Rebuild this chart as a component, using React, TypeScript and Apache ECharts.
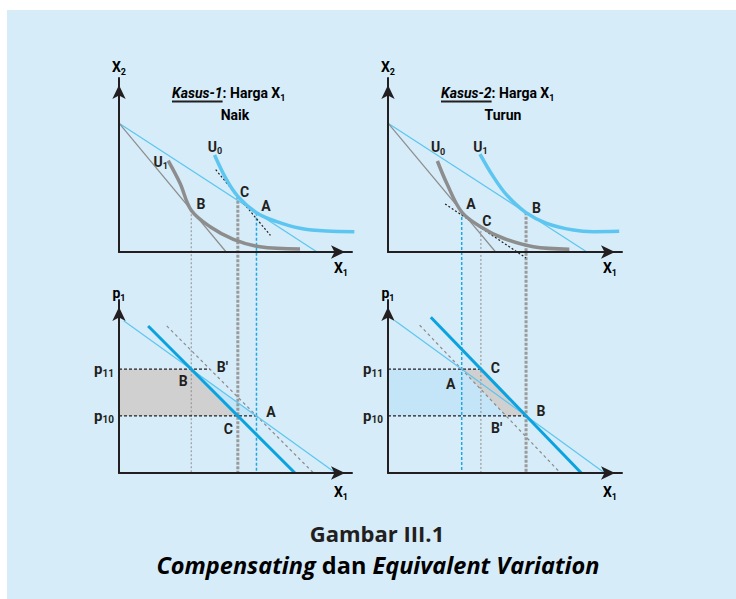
import React, { useEffect, useRef } from 'react';
import * as echarts from 'echarts';

// ---------------- DATA (each panel's axes run 0..100) ----------------
// Kasus-1 (harga X1 naik) — upper panel: X1 / X2
const k1BudgetInitial = [[0, 74], [85, 0]];
const k1BudgetNew = [[0, 74], [46, 0]];
const k1CurveU0 = [[41, 55.7], [46.2, 41.4], [51, 32], [59, 22.6], [67.7, 17.4], [77.7, 13.6], [89, 12], [101, 11.7]];
const k1CurveU1 = [[21.1, 52.5], [26.2, 39.5], [31, 24], [39.1, 14.5], [49.1, 7.3], [60.5, 3.0], [77.7, 1.7]];
const k1Tangent = [[41.5, 47.3], [65, 9.5]];
// vertical drop lines: [x, top y in upper panel]  (B, C, A)
const k1DropB = [31, 24];
const k1DropC = [51, 32];
const k1DropA = [59, 22.6];
const k1UpperLabels = [
  ['U', '0', 41.2, 60.5], ['U', '1', 17.9, 51.9], ['C', '', 53.9, 34.7], ['B', '', 35.2, 27.4], ['A', '', 63.1, 26.3],
];
// Kasus-1 — lower panel: X1 / p1
const k1DemandThin = [[2, 88], [93, 0]];
const k1DemandThick = [[12.5, 85], [75.5, 0]];
const k1DemandDotted = [[20.5, 85], [83.5, 0]];
const k1AreaGray = [[0, 60], [31, 60], [51, 33], [0, 33]];
const k1AreaBlue = [[31, 60], [59, 33], [51, 33]];
const k1P11Line = [[0, 60], [39, 60]];
const k1P10Line = [[0, 33], [59, 33]];
const k1LowerLabels = [['B′', '', 44.4, 61.4], ['B', '', 27.6, 53.4], ['A', '', 65.2, 35.4], ['C', '', 46.9, 25.3]];

// Kasus-2 (harga X1 turun) — upper panel
const k2BudgetInitial = [[0, 74], [46, 0]];
const k2BudgetNew = [[0, 74], [85, 0]];
const k2CurveU0 = [[21.1, 52.3], [25.1, 39.5], [31.5, 23], [39.7, 14.4], [49.3, 7.9], [62.1, 3.0], [77.5, 1.6]];
const k2CurveU1 = [[39.3, 56.3], [45, 43.3], [50.7, 32.8], [58.8, 22.8], [67.8, 16.5], [79.2, 12.6], [87.8, 11.7], [98.8, 11.9]];
const k2Tangent = [[24.4, 27.6], [59, -3.4]];
const k2DropA = [31.5, 23];
const k2DropC = [39.7, 14.4];
const k2DropB = [59, 22.8];
const k2UpperLabels = [
  ['U', '0', 21.4, 60.2], ['U', '1', 39.5, 60.5], ['A', '', 35.5, 27.6], ['C', '', 42.2, 17.6], ['B', '', 63.5, 25.1],
];
// Kasus-2 — lower panel
const k2DemandThin = [[3, 88], [92.6, 0]];
const k2DemandThick = [[18.3, 90], [82.6, 0]];
const k2DemandDotted = [[13.5, 85.5], [73.7, 0]];
const k2AreaBlue = [[0, 60], [31.5, 60], [50.5, 33], [0, 33]];
const k2AreaGray = [[31.5, 60], [39.7, 60], [59, 33], [50.5, 33]];
const k2P11Line = [[0, 60], [39.7, 60]];
const k2P10Line = [[0, 33], [59, 33]];
const k2LowerLabels = [['C', '', 45.9, 60.9], ['A', '', 26.8, 51.3], ['B', '', 65.4, 35.8], ['B′', '', 46.4, 26.0]];

// price tick labels on the p1 axes
const priceTicks = [33, 60];
const priceTickSubs = ['10', '11'];

// ---------------- LAYOUT / STYLE ----------------
const GRIDS = [
  { left: 119, top: 78, width: 233, height: 174 },  // 0 upper-left
  { left: 119, top: 300, width: 233, height: 173 }, // 1 lower-left
  { left: 388, top: 78, width: 234, height: 174 },  // 2 upper-right
  { left: 388, top: 300, width: 234, height: 173 }, // 3 lower-right
];
const INK = '#231f20';
const GRAY = '#8d8d8d';
const LIGHT_BLUE = '#5cc6f0';
const BLUE = '#0aa2df';
const PANEL = '#d6ecf9';
const FILL_GRAY = '#d0d0d0';
const FILL_BLUE = '#c3e5f7';
const FONT = 'Roboto, "Noto Sans", sans-serif';
const CAP_FONT = '"Open Sans", "Noto Sans", sans-serif';

const rich = {
  m: { fontFamily: FONT, fontSize: 14, fontWeight: 'bold', color: INK, lineHeight: 18 },
  s: { fontFamily: FONT, fontSize: 9, fontWeight: 'bold', color: INK, lineHeight: 10, verticalAlign: 'bottom' },
  k: { fontFamily: FONT, fontSize: 14, fontWeight: 'bold', fontStyle: 'italic', color: INK, lineHeight: 18 },
  p: { fontFamily: FONT, fontSize: 15, fontWeight: 'bold', color: INK, lineHeight: 18 },
  q: { fontFamily: FONT, fontSize: 10, fontWeight: 'bold', color: INK, lineHeight: 10, verticalAlign: 'bottom' },
};

function textWidth(text: string, font: string) {
  const c = document.createElement('canvas').getContext('2d')!;
  c.font = font;
  return c.measureText(text).width;
}

function line(data: number[][], gi: number, style: any, z = 3, clip = true) {
  return {
    type: 'line', xAxisIndex: gi, yAxisIndex: gi, data, symbol: 'none', silent: true, z, clip,
    lineStyle: style, animation: false,
  };
}

function poly(points: number[][], gi: number, fill: string) {
  return {
    type: 'custom', xAxisIndex: gi, yAxisIndex: gi, silent: true, z: 1, data: points,
    renderItem: (params: any, api: any) => {
      if (params.dataIndex !== 0) return null;
      return {
        type: 'polygon',
        shape: { points: points.map((p) => api.coord(p)) },
        style: { fill },
      };
    },
  };
}

function labels(items: any[], gi: number) {
  return {
    type: 'scatter', xAxisIndex: gi, yAxisIndex: gi, silent: true, z: 8, clip: false,
    symbolSize: 1, itemStyle: { color: 'rgba(0,0,0,0)', opacity: 1 },
    label: {
      show: true, position: 'inside', color: INK, fontWeight: 'bold', fontSize: 14, fontFamily: FONT,
      textBorderWidth: 0, opacity: 1, rich,
    },
    data: items.map(([t, s, x, y]) => ({
      value: [x, y],
      label: { formatter: s ? `{m|${t}}{s|${s}}` : `{m|${t}}` },
    })),
  };
}

function dropLine(top: number[], style: any) {
  // from the point in the upper panel down to the lower panel's X1 axis
  const up = GRIDS[0];
  const low = GRIDS[1];
  const bottom = -((low.top + low.height) - (up.top + up.height)) / up.height * 100;
  return { data: [[top[0], top[1]], [top[0], bottom]], style };
}

const thinGrayDash = { color: GRAY, width: 1, type: [2, 2] };
const thickGrayDot = { color: '#9a9a9a', width: 3, type: [3, 1.5] };
const blueDot = { color: '#1fa8e0', width: 1.5, type: [3, 2] };
const blackDash = { color: INK, width: 1.2, type: [3, 2] };
const blackDot = { color: INK, width: 1.2, type: [2, 2] };
const grayDot = { color: '#8a8a8a', width: 1.2, type: [3, 3] };
const thinBlue = { color: LIGHT_BLUE, width: 1.2 };
const thinGray = { color: GRAY, width: 1.2 };
const thickBlue = { color: BLUE, width: 3 };
const curveBlue = { color: LIGHT_BLUE, width: 3.5 };
const curveGray = { color: GRAY, width: 3.5 };

function axis(gi: number, isY: boolean) {
  const lowerY = isY && (gi === 1 || gi === 3);
  return {
    type: 'value', gridIndex: gi, min: 0, max: 100, z: 6,
    axisLine: {
      show: true, onZero: false, symbol: ['none', 'arrow'], symbolSize: [10, 14], symbolOffset: [0, -7],
      lineStyle: { color: INK, width: 2 },
    },
    axisTick: { show: false },
    splitLine: { show: false },
    axisLabel: lowerY
      ? {
          show: true, customValues: priceTicks, margin: 5, rich, color: INK, fontWeight: 'bold', fontFamily: FONT,
          formatter: (v: number) => `{p|p}{q|${priceTickSubs[priceTicks.indexOf(v)]}}`,
        }
      : { show: false },
  };
}

function axisName(sym: string, sub: string, x: number, y: number) {
  return {
    type: 'text', z: 10,
    style: {
      text: `{m|${sym}}{s|${sub}}`, rich, x, y,
      textAlign: 'center', textVerticalAlign: 'middle', align: 'center', verticalAlign: 'middle',
    },
  };
}

export default function App() {
  const ref = useRef<HTMLDivElement>(null);
  useEffect(() => {
    const chart = echarts.init(ref.current!, null, { renderer: 'svg' });

    const kFont = `italic bold 14px ${FONT}`;
    const w1 = textWidth('Kasus-1', kFont);
    const w2 = textWidth('Kasus-2', kFont);
    const t1x = 172;
    const t2x = 441;

    const series: any[] = [];
    // ---- left column ----
    series.push(poly(k1AreaGray, 1, FILL_GRAY), poly(k1AreaBlue, 1, FILL_BLUE));
    const k1d = [dropLine(k1DropB, thinGrayDash), dropLine(k1DropC, thickGrayDot), dropLine(k1DropA, blueDot)];
    k1d.forEach((d) => series.push(line(d.data, 0, d.style, 2, false)));
    series.push(line(k1BudgetInitial, 0, thinBlue), line(k1BudgetNew, 0, thinGray));
    series.push(line(k1Tangent, 0, blackDot, 3, false));
    series.push({ ...line(k1CurveU1, 0, curveGray, 4, false), smooth: 0.35 });
    series.push({ ...line(k1CurveU0, 0, curveBlue, 4, false), smooth: 0.35 });
    series.push(labels(k1UpperLabels, 0));
    series.push(line(k1P11Line, 1, blackDash, 2), line(k1P10Line, 1, blackDash, 2));
    series.push(line(k1DemandDotted, 1, grayDot, 2), line(k1DemandThin, 1, thinBlue, 3), line(k1DemandThick, 1, thickBlue, 4));
    series.push(labels(k1LowerLabels, 1));
    // ---- right column ----
    series.push(poly(k2AreaBlue, 3, FILL_BLUE), poly(k2AreaGray, 3, FILL_GRAY));
    const k2d = [dropLine(k2DropA, blueDot), dropLine(k2DropC, thinGrayDash), dropLine(k2DropB, thickGrayDot)];
    k2d.forEach((d) => series.push(line(d.data, 2, d.style, 2, false)));
    series.push(line(k2BudgetNew, 2, thinBlue), line(k2BudgetInitial, 2, thinGray));
    series.push(line(k2Tangent, 2, blackDot, 3, false));
    series.push({ ...line(k2CurveU0, 2, curveGray, 4, false), smooth: 0.35 });
    series.push({ ...line(k2CurveU1, 2, curveBlue, 4, false), smooth: 0.35 });
    series.push(labels(k2UpperLabels, 2));
    series.push(line(k2P11Line, 3, blackDash, 2), line(k2P10Line, 3, blackDash, 2));
    series.push(line(k2DemandDotted, 3, grayDot, 2), line(k2DemandThin, 3, thinBlue, 3), line(k2DemandThick, 3, thickBlue, 4));
    series.push(labels(k2LowerLabels, 3));

    chart.setOption({
      animation: false,
      grid: GRIDS.map((g) => ({ ...g, containLabel: false })),
      xAxis: [0, 1, 2, 3].map((i) => axis(i, false)),
      yAxis: [0, 1, 2, 3].map((i) => axis(i, true)),
      graphic: [
        { type: 'rect', z: -10, silent: true, shape: { x: 7, y: 10, width: 729, height: 589 }, style: { fill: PANEL } },
        axisName('X', '2', 119, 67), axisName('X', '1', 341, 268),
        axisName('p', '1', 119, 293), axisName('X', '1', 341, 492),
        axisName('X', '2', 388, 67), axisName('X', '1', 610, 268),
        axisName('p', '1', 388, 293), axisName('X', '1', 610, 492),
        {
          type: 'text', z: 10,
          style: { text: '{k|Kasus-1}{m|: Harga X}{s|1}', rich, x: t1x, y: 93, textVerticalAlign: 'middle', verticalAlign: 'middle' },
        },
        { type: 'line', z: 10, shape: { x1: t1x, y1: 101.5, x2: t1x + w1, y2: 101.5 }, style: { stroke: INK, lineWidth: 1.8 } },
        {
          type: 'text', z: 10,
          style: { text: '{m|Naik}', rich, x: 235, y: 115, textAlign: 'center', align: 'center', textVerticalAlign: 'middle', verticalAlign: 'middle' },
        },
        {
          type: 'text', z: 10,
          style: { text: '{k|Kasus-2}{m|: Harga X}{s|1}', rich, x: t2x, y: 93, textVerticalAlign: 'middle', verticalAlign: 'middle' },
        },
        { type: 'line', z: 10, shape: { x1: t2x, y1: 101.5, x2: t2x + w2, y2: 101.5 }, style: { stroke: INK, lineWidth: 1.8 } },
        {
          type: 'text', z: 10,
          style: { text: '{m|Turun}', rich, x: 503, y: 115, textAlign: 'center', align: 'center', textVerticalAlign: 'middle', verticalAlign: 'middle' },
        },
        {
          type: 'text', z: 10,
          style: {
            text: 'Gambar III.1', x: 377, y: 533, fill: INK,
            font: `bold 22px ${CAP_FONT}`,
            textAlign: 'center', align: 'center', textVerticalAlign: 'middle', verticalAlign: 'middle',
          },
        },
        {
          type: 'text', z: 10,
          style: {
            text: '{i|Compensating}{b| dan }{i|Equivalent Variation}', x: 378, y: 565,
            textAlign: 'center', align: 'center', textVerticalAlign: 'middle', verticalAlign: 'middle',
            rich: {
              i: { fontFamily: CAP_FONT, fontSize: 23.5, fontWeight: 'bold', fontStyle: 'italic', color: INK },
              b: { fontFamily: CAP_FONT, fontSize: 23.5, fontWeight: 'bold', color: INK },
            },
          },
        },
      ],
      series,
    });
    return () => chart.dispose();
  }, []);
  return <div ref={ref} style={{ position: 'absolute', left: 0, top: 0, width: 736, height: 599, background: '#fff' }} />;
}
